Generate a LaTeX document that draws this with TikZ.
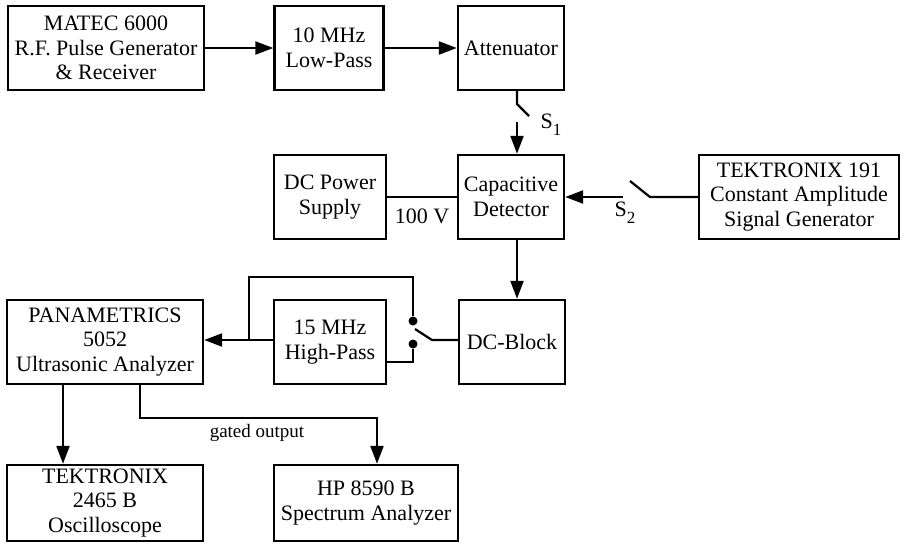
\documentclass[tikz,border=0pt]{standalone}
\usepackage{fontspec}
\setmainfont{Liberation Serif}
\usetikzlibrary{arrows.meta}

\newcommand{\subidx}[1]{\raisebox{-7pt}{\fontsize{17}{17}\selectfont #1}}

\begin{document}
\begin{tikzpicture}[
    x=1pt, y=-1pt,
    font=\fontsize{22}{24.5}\selectfont,
    box/.style={draw, line width=2.4pt, align=center, minimum width=#1, minimum height=84pt, inner sep=0pt},
    box/.default=110pt,
    wire/.style={line width=2.2pt},
    feed/.style={wire, -{Triangle[length=18pt, width=13pt]}},
    pin/.style={circle, fill=black, inner sep=0pt, minimum size=9pt}
]
    \useasboundingbox (0,0) rectangle (904,544);

    % Top row
    \node[box=196pt] (matec) at (106,48) {MATEC 6000\\R.F. Pulse Generator\\\& Receiver};
    \node[box=109pt] (lowpass) at (329,48) {10 MHz\\Low-Pass};
    \node[box=106pt] (atten) at (511,48) {Attenuator};

    % Middle row
    \node[box=112pt] (dcpower) at (330,197) {DC Power\\Supply};
    \node[box=106pt] (capdet) at (511,197) {Capacitive\\Detector};
    \node[box=200pt] (tek191) at (799,197) {TEKTRONIX 191\\Constant Amplitude\\Signal Generator};

    % Lower row
    \node[box=106pt] (dcblock) at (512,342) {DC-Block};
    \node[box=112pt] (highpass) at (330,342) {15 MHz\\High-Pass};
    \node[box=196pt] (panam) at (105,342) {PANAMETRICS\\5052\\Ultrasonic Analyzer};

    % Bottom row
    \node[box=196pt, minimum height=76pt] (tek2465) at (105,503) {TEKTRONIX\\2465 B\\Oscilloscope};
    \node[box=184pt, minimum height=76pt] (hp) at (366,503) {HP 8590 B\\Spectrum Analyzer};

    % Coordinates
    \coordinate (s1a) at (517,104);
    \coordinate (s1b) at (529,116);
    \coordinate (s1c) at (517,122);
    \coordinate (s2a) at (650,197);
    \coordinate (s2b) at (630,181);
    \coordinate (s2c) at (623,197);
    \coordinate (sw) at (432,340);
    \coordinate (swtip) at (415,329);
    \coordinate (bypass) at (249,277);
    \coordinate (gate) at (140,418);

    % Signal path
    \draw[feed] (matec) -- (lowpass);
    \draw[feed] (lowpass) -- (atten);

    % Switch S1
    \draw[wire] (atten.south -| s1a) -- (s1a) -- (s1b);
    \draw[feed] (s1c) -- (s1c |- capdet.north);
    \node (s1lbl) at (551,125) {S\subidx{1}};

    % Switch S2
    \draw[wire] (tek191.west) -- (s2a) -- (s2b);
    \draw[feed] (s2c) -- (capdet.east);
    \node (s2lbl) at (625,213) {S\subidx{2}};

    % Bias
    \draw[wire] (dcpower) -- (capdet);
    \node (biaslbl) at (422,216) {100 V};

    \draw[feed] (capdet.south -| s1c) -- (dcblock.north -| s1c);

    % Filter switch
    \node[pin] (pinhi) at (413,321) {};
    \node[pin] (pinlo) at (413,344) {};
    \draw[wire] (dcblock.west |- sw) -- (sw) -- (swtip);
    \draw[wire] (pinhi) |- (bypass) -- (bypass |- sw);
    \draw[wire] (pinlo) |- ([yshift=-20pt]highpass.east);
    \draw[feed] (highpass.west |- sw) -- (panam.east |- sw);

    % Outputs
    \draw[feed] ([xshift=-42pt]panam.south) -- ([xshift=-42pt]tek2465.north);
    \draw[feed] (panam.south -| gate) -- (gate) -| ([xshift=11pt]hp.north);
    \node[font=\fontsize{19}{19}\selectfont] (gatelbl) at (257,433) {gated output};

\end{tikzpicture}
\end{document}
